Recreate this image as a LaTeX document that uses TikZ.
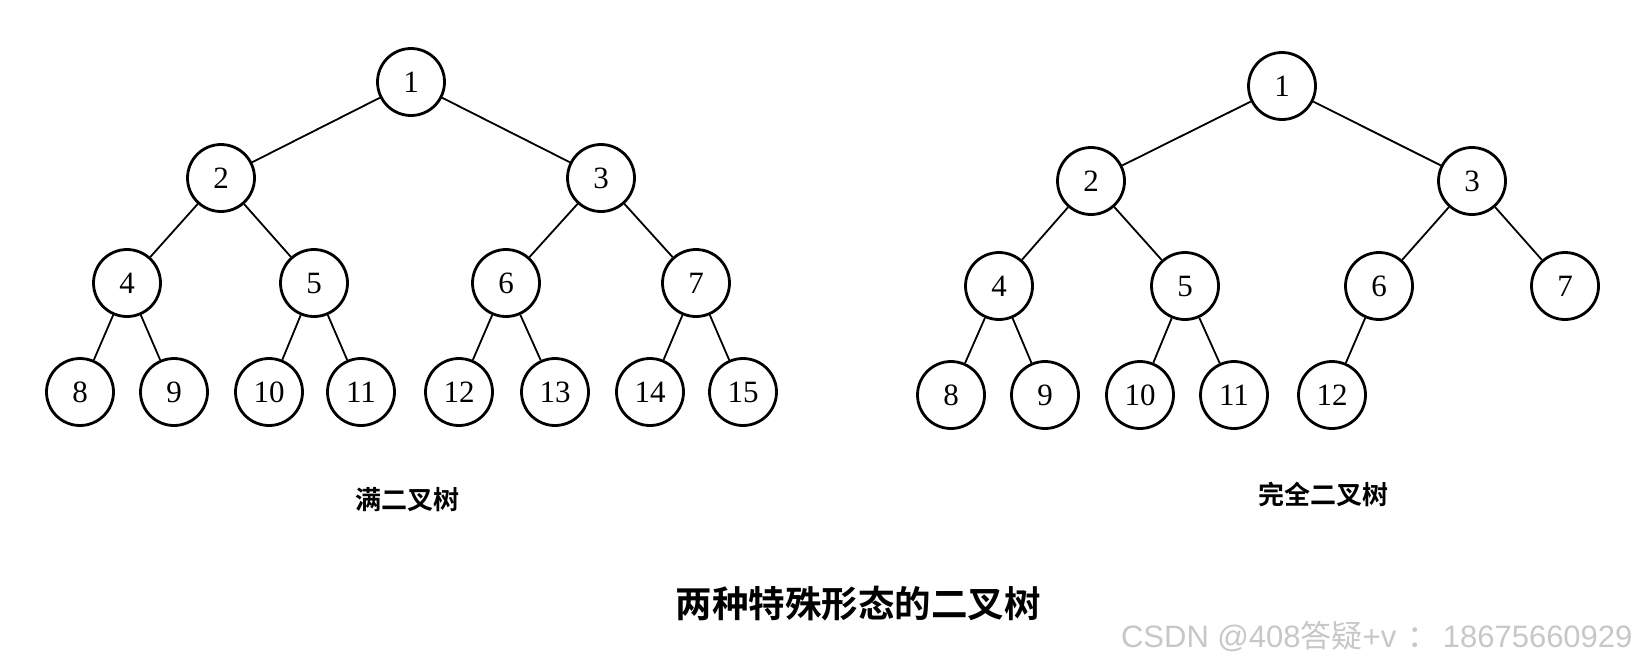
\documentclass[tikz,border=0pt]{standalone}
\usepackage{fontspec}
\setmainfont{Liberation Serif}
\newfontfamily\cjk{Noto Sans CJK SC}[BoldFont={Noto Sans CJK SC Bold}]
\newfontfamily\wmsans{Liberation Sans}
\begin{document}
\begin{tikzpicture}[x=1pt,y=-1pt,
  tnode/.style={circle,draw=black,line width=2.8pt,minimum size=67pt,inner sep=0pt,font=\fontsize{31}{31}\selectfont},
  tedge/.style={line width=1.8pt,black},
  captext/.style={font=\cjk\bfseries\fontsize{26}{26}\selectfont},
  ttl/.style={font=\cjk\bfseries\fontsize{36.5}{36.5}\selectfont},
  wm/.style={font=\wmsans\fontsize{31}{31}\selectfont,text=black!22}]
\useasboundingbox (0,0) rectangle (1640,667);
% full binary tree
\node[tnode] (a1) at (411,82) {1};
\node[tnode] (a2) at (221,178) {2};
\node[tnode] (a3) at (601,178) {3};
\node[tnode] (a4) at (127,283) {4};
\node[tnode] (a5) at (314,283) {5};
\node[tnode] (a6) at (506,283) {6};
\node[tnode] (a7) at (696,283) {7};
\node[tnode] (a8) at (80,392) {8};
\node[tnode] (a9) at (174,392) {9};
\node[tnode] (a10) at (269,392) {10};
\node[tnode] (a11) at (361,392) {11};
\node[tnode] (a12) at (459,392) {12};
\node[tnode] (a13) at (555,392) {13};
\node[tnode] (a14) at (650,392) {14};
\node[tnode] (a15) at (743,392) {15};
\foreach \p/\c in {1/2,1/3,2/4,2/5,3/6,3/7,4/8,4/9,5/10,5/11,6/12,6/13,7/14,7/15}
  \draw[tedge] (a\p) -- (a\c);
% complete binary tree
\node[tnode] (b1) at (1282,86) {1};
\node[tnode] (b2) at (1091,181) {2};
\node[tnode] (b3) at (1472,181) {3};
\node[tnode] (b4) at (999,286) {4};
\node[tnode] (b5) at (1185,286) {5};
\node[tnode] (b6) at (1379,286) {6};
\node[tnode] (b7) at (1565,286) {7};
\node[tnode] (b8) at (951,395) {8};
\node[tnode] (b9) at (1045,395) {9};
\node[tnode] (b10) at (1140,395) {10};
\node[tnode] (b11) at (1234,395) {11};
\node[tnode] (b12) at (1332,395) {12};
\foreach \p/\c in {1/2,1/3,2/4,2/5,3/6,3/7,4/8,4/9,5/10,5/11,6/12}
  \draw[tedge] (b\p) -- (b\c);
% captions
\node[captext] (c1) at (407,500) {满二叉树};
\node[captext] (c2) at (1323,494) {完全二叉树};
\node[ttl] (t) at (858,604) {两种特殊形态的二叉树};
\node[wm,anchor=east] (w) at (1636,637) {CSDN @408{\cjk 答疑}+v\hspace{0.35em}{\cjk ：}\hspace{0.15em}18675660929};
\end{tikzpicture}
\end{document}
